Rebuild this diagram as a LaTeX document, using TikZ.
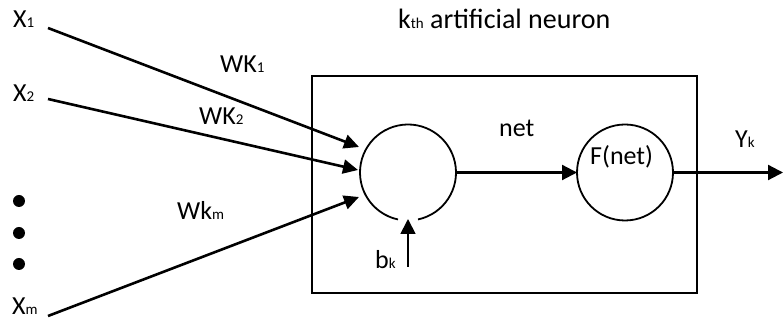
\documentclass[tikz,border=0pt]{standalone}
\usepackage{fontspec}
\setmainfont{Carlito}
\usetikzlibrary{arrows.meta}
\newcommand{\smallsub}[1]{{\fontsize{15}{15}\selectfont #1}}
\begin{document}
\begin{tikzpicture}[x=1pt,y=1pt,
  txt/.style={anchor=base west,inner sep=0pt,font=\fontsize{26}{26}\selectfont},
  inline/.style={line width=2.6pt,-{Triangle[length=15pt,width=14pt]}},
  arr/.style={line width=2.2pt,-{Triangle[length=15pt,width=15pt]}},
  neuron/.style={circle,minimum size=96pt,inner sep=0pt,outer sep=0pt}]
\useasboundingbox (0,0) rectangle (783,320);
% box
\draw[line width=2pt] (312,27) rectangle (697,244);
% circles
\node[neuron] (sum) at (408,147.5) {};
\draw[line width=1.8pt] (sum.-78) arc[start angle=-78,end angle=258,radius=48pt];
\node[neuron,draw,line width=1.8pt] (F) at (625,147.5) {};
% texts
\node[txt,font=\fontsize{28}{28}\selectfont] (title) at (398,291) {k\smallsub{th} artificial neuron};
\node[txt] (x1) at (13,292) {X\smallsub{1}};
\node[txt] (x2) at (13,218) {X\smallsub{2}};
\node[txt] (xm) at (12,5) {X\smallsub{m}};
\node[txt] (w1) at (220,247) {WK\smallsub{1}};
\node[txt] (w2) at (199,195) {WK\smallsub{2}};
\node[txt] (wm) at (177,100) {Wk\smallsub{m}};
\node[txt] (net) at (499,183) {net};
\node[txt] (fn) at (590,155) {F(net)};
\node[txt] (yk) at (735,172) {Y\smallsub{k}};
\node[txt] (bk) at (375,51) {b\smallsub{k}};
% dots
\foreach \yy in {119,87,56}
  \fill (19,\yy) circle[radius=6pt];
% inputs
\coordinate (s1) at (48,292);
\coordinate (s2) at (48,221);
\coordinate (sm) at (48,4);
\coordinate (e1) at (359,173);
\coordinate (e2) at (358,150);
\coordinate (em) at (359,123);
\draw[inline] (s1) -- (e1);
\draw[inline] (s2) -- (e2);
\draw[inline] (sm) -- (em);
% bias
\coordinate (b0) at (408,53);
\coordinate (b1) at (408,101);
\draw[arr,line width=1.8pt] (b0) -- (b1);
% net and output
\draw[arr] (sum.east) -- (F.west);
\coordinate (out) at (783,147.5);
\draw[arr] (F.east) -- (out);
\end{tikzpicture}
\end{document}
